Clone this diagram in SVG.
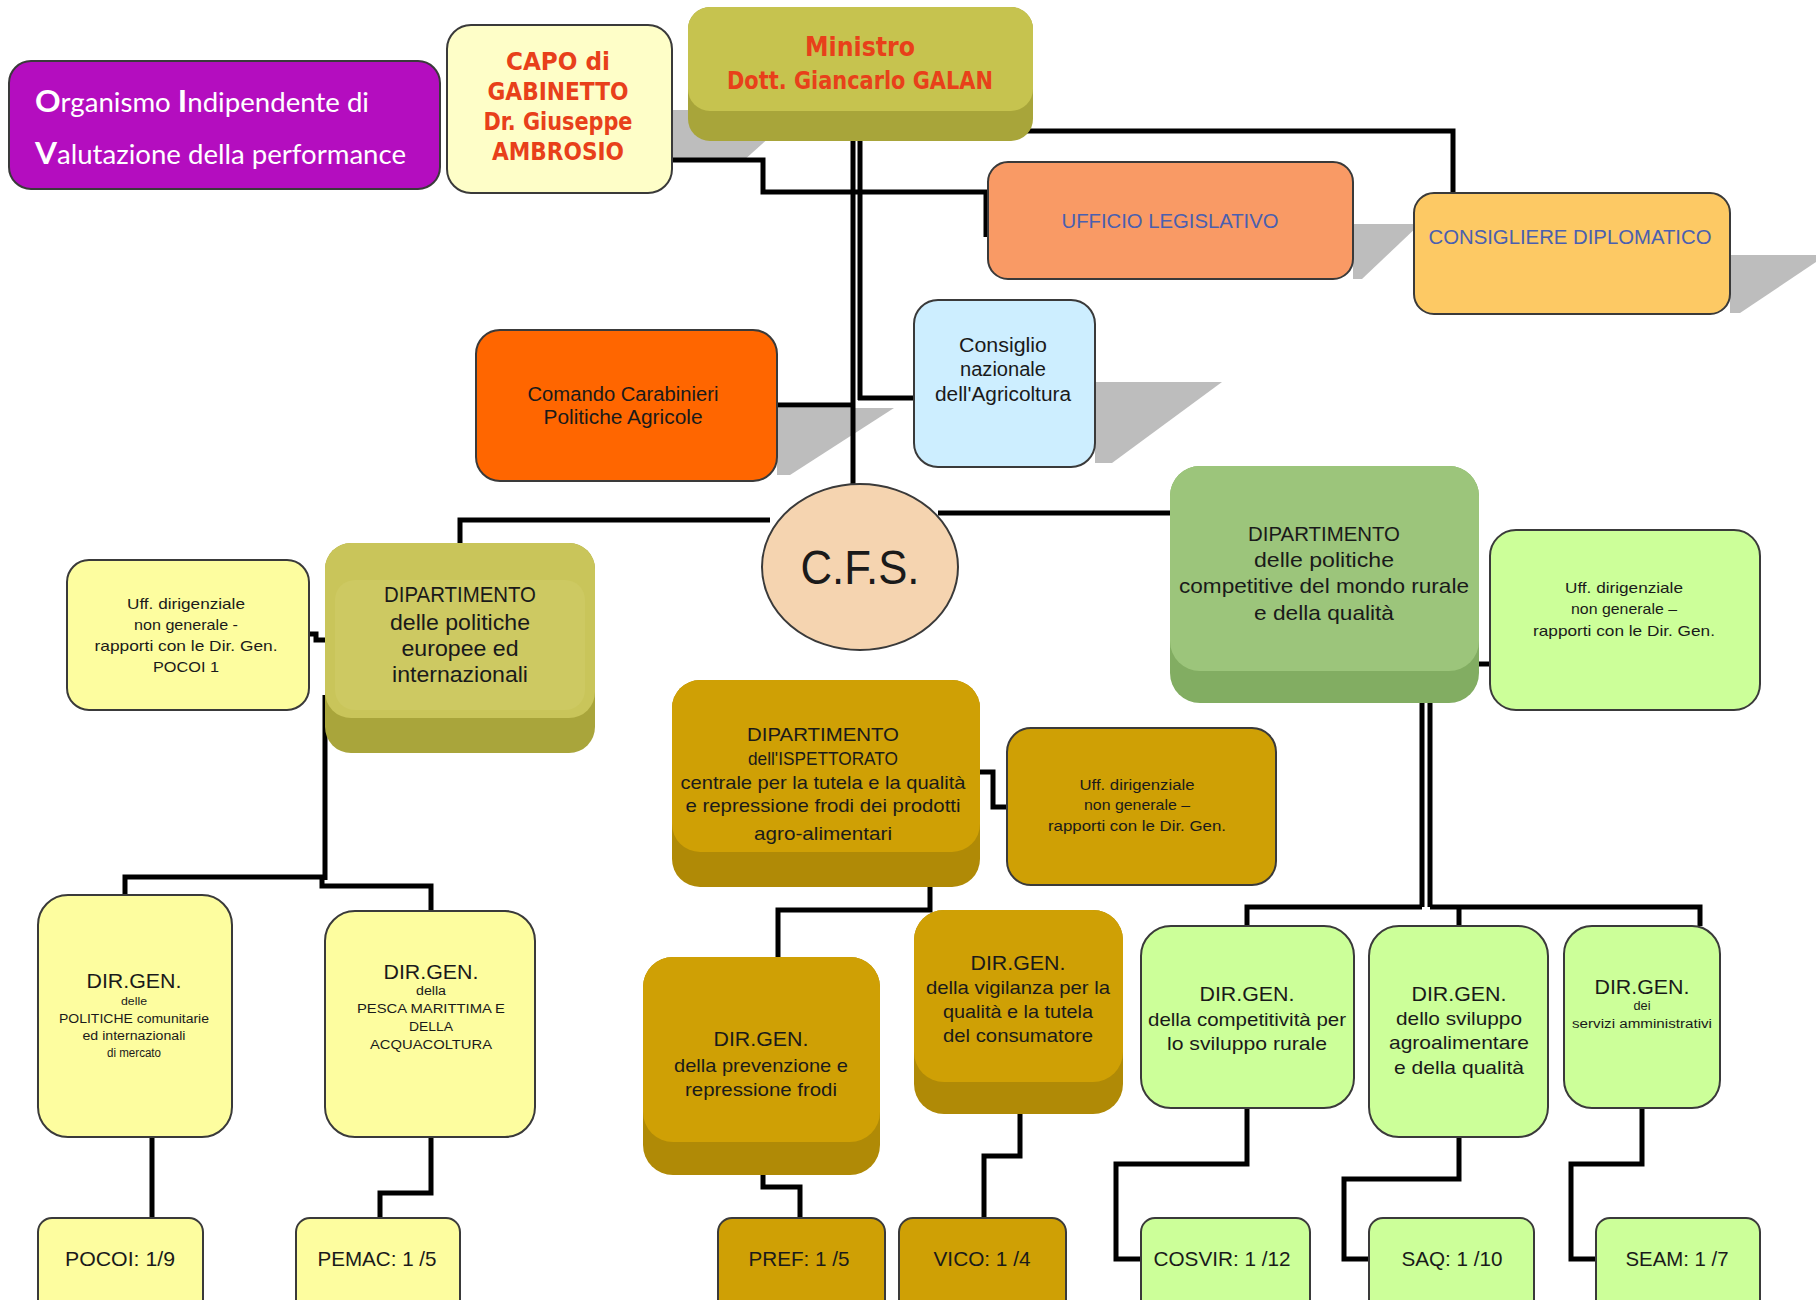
<svg xmlns="http://www.w3.org/2000/svg" width="1816" height="1300" viewBox="0 0 1816 1300">
<defs>
<style>
.box{stroke:#3a3a3a;stroke-width:2}
.t{font-family:"Liberation Sans",Arial,sans-serif;fill:#1a1a1a;text-anchor:middle}
.red{font-family:"Liberation Sans Narrow","DejaVu Sans Condensed","Liberation Sans",sans-serif;font-weight:bold;fill:#e8401a;text-anchor:middle}
.blue{font-family:"Liberation Sans",sans-serif;fill:#4a5fb0;text-anchor:middle}
.oiv{font-family:Lato,"Open Sans",sans-serif;fill:#ffffff}
.ln{fill:none;stroke:#000;stroke-width:5}
.sh{fill:#bdbdbd}
.yel{fill:#fdfd9f}
.gold{fill:#cfa005}
.goldb{fill:#b08a06}
.lg{fill:#ccff99}
</style>
</defs>
<rect width="1816" height="1300" fill="#ffffff"/>

<!-- shadows -->
<g id="shadows">
<polygon class="sh" points="672,110 800,110 742,162 672,162"/>
<polygon class="sh" points="1353,224 1420,224 1362,279 1353,279"/>
<polygon class="sh" points="1730,255 1816,255 1816,262 1740,313 1730,313"/>
<polygon class="sh" points="777,408 894,408 790,475 777,475"/>
<polygon class="sh" points="1095,382 1222,382 1112,463 1095,463"/>
</g>

<!-- connectors -->
<g id="connectors">
<polyline class="ln" points="1019,131 1453,131 1453,193"/>
<polyline class="ln" points="672,160 763,160 763,192 986,192 986,237"/>
<line class="ln" x1="853" y1="141" x2="853" y2="486"/>
<line class="ln" x1="860" y1="141" x2="860" y2="400"/>
<line class="ln" x1="777" y1="405" x2="853" y2="405"/>
<line class="ln" x1="858" y1="398" x2="914" y2="398"/>
<polyline class="ln" points="460,545 460,520 770,520"/>
<line class="ln" x1="938" y1="513" x2="1170" y2="513"/>
<polyline class="ln" points="309,634 316,634 316,640 325,640"/>
<line class="ln" x1="325" y1="695" x2="325" y2="880"/>
<polyline class="ln" points="125,896 125,877 322,877 322,886 431,886 431,911"/>
<line class="ln" x1="152" y1="1137" x2="152" y2="1218"/>
<polyline class="ln" points="431,1137 431,1193 380,1193 380,1218"/>
<polyline class="ln" points="980,772 993,772 993,807 1007,807"/>
<polyline class="ln" points="778,957 778,910 930,910 930,885"/>
<polyline class="ln" points="763,1160 763,1187 800,1187 800,1218"/>
<polyline class="ln" points="1020,1094 1020,1156 984,1156 984,1218"/>
<line class="ln" x1="1479" y1="664" x2="1490" y2="664"/>
<line class="ln" x1="1422" y1="703" x2="1422" y2="907"/>
<line class="ln" x1="1430" y1="703" x2="1430" y2="907"/>
<polyline class="ln" points="1247,926 1247,907 1422,907"/>
<polyline class="ln" points="1430,907 1700,907 1700,926"/>
<line class="ln" x1="1459" y1="907" x2="1459" y2="926"/>
<polyline class="ln" points="1247,1108 1247,1164 1116,1164 1116,1259 1141,1259"/>
<polyline class="ln" points="1459,1137 1459,1179 1344,1179 1344,1259 1369,1259"/>
<polyline class="ln" points="1642,1108 1642,1164 1571,1164 1571,1259 1596,1259"/>
</g>

<g id="oiv">
<rect class="box" x="9" y="61" width="431" height="128" rx="22" fill="#b40dbf"/>
<text class="oiv" x="35" y="112" font-size="27" textLength="334" lengthAdjust="spacingAndGlyphs"><tspan font-weight="bold" font-size="31">O</tspan>rganismo <tspan font-weight="bold" font-size="31">I</tspan>ndipendente di</text>
<text class="oiv" x="35" y="164" font-size="27" textLength="371" lengthAdjust="spacingAndGlyphs"><tspan font-weight="bold" font-size="31">V</tspan>alutazione della performance</text>
</g>

<g id="capo">
<rect class="box" x="447" y="25" width="225" height="168" rx="24" fill="#fefec8"/>
<text class="red" x="558" y="70" font-size="24" textLength="104" lengthAdjust="spacingAndGlyphs">CAPO di</text>
<text class="red" x="558" y="100" font-size="24" textLength="141" lengthAdjust="spacingAndGlyphs">GABINETTO</text>
<text class="red" x="558" y="130" font-size="24" textLength="149" lengthAdjust="spacingAndGlyphs">Dr. Giuseppe</text>
<text class="red" x="558" y="160" font-size="24" textLength="132" lengthAdjust="spacingAndGlyphs">AMBROSIO</text>
</g>

<g id="ministro">
<rect x="688" y="7" width="345" height="134" rx="22" fill="#a8a53a"/>
<rect x="688" y="7" width="345" height="104" rx="22" fill="#c6c34f"/>
<text class="red" x="860" y="56" font-size="26" textLength="110" lengthAdjust="spacingAndGlyphs">Ministro</text>
<text class="red" x="860" y="89" font-size="25" textLength="266" lengthAdjust="spacingAndGlyphs">Dott. Giancarlo GALAN</text>
</g>

<g id="ufficio-legislativo">
<rect class="box" x="988" y="162" width="365" height="117" rx="20" fill="#f99a65"/>
<text class="blue" x="1170" y="228" font-size="20" textLength="217" lengthAdjust="spacingAndGlyphs">UFFICIO LEGISLATIVO</text>
</g>

<g id="consigliere">
<rect class="box" x="1414" y="193" width="316" height="121" rx="20" fill="#fdc964"/>
<text class="blue" x="1570" y="244" font-size="21" textLength="283" lengthAdjust="spacingAndGlyphs">CONSIGLIERE DIPLOMATICO</text>
</g>

<g id="comando">
<rect class="box" x="476" y="330" width="301" height="151" rx="24" fill="#ff6600"/>
<text class="t" x="623" y="401" font-size="20" textLength="191" lengthAdjust="spacingAndGlyphs">Comando Carabinieri</text>
<text class="t" x="623" y="424" font-size="20" textLength="159" lengthAdjust="spacingAndGlyphs">Politiche Agricole</text>
</g>

<g id="consiglio">
<rect class="box" x="914" y="300" width="181" height="167" rx="24" fill="#cdeeff"/>
<text class="t" x="1003" y="352" font-size="20" textLength="88" lengthAdjust="spacingAndGlyphs">Consiglio</text>
<text class="t" x="1003" y="376" font-size="20" textLength="86" lengthAdjust="spacingAndGlyphs">nazionale</text>
<text class="t" x="1003" y="401" font-size="20" textLength="136" lengthAdjust="spacingAndGlyphs">dell'Agricoltura</text>
</g>

<g id="cfs">
<ellipse class="box" cx="860" cy="567" rx="98" ry="83" fill="#f5d4b0"/>
<text class="t" x="860" y="584" font-size="48" textLength="119" lengthAdjust="spacingAndGlyphs">C.F.S.</text>
</g>

<g id="dip-europee">
<rect x="325" y="543" width="270" height="210" rx="26" fill="#a9a53b"/>
<rect x="325" y="543" width="270" height="175" rx="26" fill="#c9c55a"/>
<rect x="335" y="580" width="250" height="130" rx="20" fill="#cdc962"/>
<text class="t" x="460" y="602" font-size="22" textLength="152" lengthAdjust="spacingAndGlyphs">DIPARTIMENTO</text>
<text class="t" x="460" y="630" font-size="22" textLength="140" lengthAdjust="spacingAndGlyphs">delle politiche</text>
<text class="t" x="460" y="656" font-size="22" textLength="117" lengthAdjust="spacingAndGlyphs">europee ed</text>
<text class="t" x="460" y="682" font-size="22" textLength="136" lengthAdjust="spacingAndGlyphs">internazionali</text>
</g>

<g id="uff-pocoi">
<rect class="box yel" x="67" y="560" width="242" height="150" rx="22"/>
<text class="t" x="186" y="609" font-size="15" textLength="118" lengthAdjust="spacingAndGlyphs">Uff. dirigenziale</text>
<text class="t" x="186" y="630" font-size="15" textLength="104" lengthAdjust="spacingAndGlyphs">non generale  -</text>
<text class="t" x="186" y="651" font-size="15" textLength="183" lengthAdjust="spacingAndGlyphs">rapporti con  le  Dir. Gen.</text>
<text class="t" x="186" y="672" font-size="15" textLength="66" lengthAdjust="spacingAndGlyphs">POCOI 1</text>
</g>

<g id="dg-pocoi">
<rect class="box yel" x="38" y="895" width="194" height="242" rx="30"/>
<text class="t" x="134" y="988" font-size="20" textLength="95" lengthAdjust="spacingAndGlyphs">DIR.GEN.</text>
<text class="t" x="134" y="1005" font-size="11" textLength="26" lengthAdjust="spacingAndGlyphs">delle</text>
<text class="t" x="134" y="1023" font-size="12" textLength="150" lengthAdjust="spacingAndGlyphs">POLITICHE comunitarie</text>
<text class="t" x="134" y="1040" font-size="12" textLength="103" lengthAdjust="spacingAndGlyphs">ed internazionali</text>
<text class="t" x="134" y="1057" font-size="12" textLength="54" lengthAdjust="spacingAndGlyphs">di mercato</text>
</g>

<g id="dg-pemac">
<rect class="box yel" x="325" y="911" width="210" height="226" rx="30"/>
<text class="t" x="431" y="979" font-size="20" textLength="95" lengthAdjust="spacingAndGlyphs">DIR.GEN.</text>
<text class="t" x="431" y="995" font-size="12" textLength="30" lengthAdjust="spacingAndGlyphs">della</text>
<text class="t" x="431" y="1013" font-size="13" textLength="148" lengthAdjust="spacingAndGlyphs">PESCA MARITTIMA E</text>
<text class="t" x="431" y="1031" font-size="13" textLength="44" lengthAdjust="spacingAndGlyphs">DELLA</text>
<text class="t" x="431" y="1049" font-size="13" textLength="122" lengthAdjust="spacingAndGlyphs">ACQUACOLTURA</text>
</g>

<g id="pocoi">
<rect class="box yel" x="38" y="1218" width="165" height="95" rx="14"/>
<text class="t" x="120" y="1266" font-size="21" textLength="110" lengthAdjust="spacingAndGlyphs">POCOI: 1/9</text>
</g>

<g id="pemac">
<rect class="box yel" x="296" y="1218" width="164" height="95" rx="14"/>
<text class="t" x="377" y="1266" font-size="21" textLength="119" lengthAdjust="spacingAndGlyphs">PEMAC: 1 /5</text>
</g>

<g id="dip-ispettorato">
<rect x="672" y="680" width="308" height="207" rx="28" class="goldb"/>
<rect x="672" y="680" width="308" height="172" rx="28" class="gold"/>
<text class="t" x="823" y="741" font-size="19" textLength="152" lengthAdjust="spacingAndGlyphs">DIPARTIMENTO</text>
<text class="t" x="823" y="765" font-size="19" textLength="150" lengthAdjust="spacingAndGlyphs">dell'ISPETTORATO</text>
<text class="t" x="823" y="789" font-size="19" textLength="285" lengthAdjust="spacingAndGlyphs">centrale per la tutela e la qualità</text>
<text class="t" x="823" y="812" font-size="19" textLength="275" lengthAdjust="spacingAndGlyphs">e repressione frodi dei prodotti</text>
<text class="t" x="823" y="840" font-size="19" textLength="138" lengthAdjust="spacingAndGlyphs">agro-alimentari</text>
</g>

<g id="uff-ispettorato">
<rect class="box gold" x="1007" y="728" width="269" height="157" rx="24"/>
<text class="t" x="1137" y="790" font-size="15" textLength="115" lengthAdjust="spacingAndGlyphs">Uff. dirigenziale</text>
<text class="t" x="1137" y="810" font-size="15" textLength="106" lengthAdjust="spacingAndGlyphs">non generale  –</text>
<text class="t" x="1137" y="831" font-size="15" textLength="178" lengthAdjust="spacingAndGlyphs">rapporti con  le  Dir. Gen.</text>
</g>

<g id="dg-prevenzione">
<rect x="643" y="957" width="237" height="218" rx="30" class="goldb"/>
<rect x="643" y="957" width="237" height="185" rx="30" class="gold"/>
<text class="t" x="761" y="1046" font-size="20" textLength="95" lengthAdjust="spacingAndGlyphs">DIR.GEN.</text>
<text class="t" x="761" y="1072" font-size="19" textLength="174" lengthAdjust="spacingAndGlyphs">della prevenzione e</text>
<text class="t" x="761" y="1096" font-size="19" textLength="152" lengthAdjust="spacingAndGlyphs">repressione frodi</text>
</g>

<g id="dg-vigilanza">
<rect x="914" y="910" width="209" height="204" rx="30" class="goldb"/>
<rect x="914" y="910" width="209" height="172" rx="30" class="gold"/>
<text class="t" x="1018" y="970" font-size="20" textLength="95" lengthAdjust="spacingAndGlyphs">DIR.GEN.</text>
<text class="t" x="1018" y="994" font-size="19" textLength="184" lengthAdjust="spacingAndGlyphs">della vigilanza per la</text>
<text class="t" x="1018" y="1018" font-size="19" textLength="150" lengthAdjust="spacingAndGlyphs">qualità e la tutela</text>
<text class="t" x="1018" y="1042" font-size="19" textLength="150" lengthAdjust="spacingAndGlyphs">del consumatore</text>
</g>

<g id="pref">
<rect class="box gold" x="718" y="1218" width="167" height="95" rx="14"/>
<text class="t" x="799" y="1266" font-size="21" textLength="101" lengthAdjust="spacingAndGlyphs">PREF: 1 /5</text>
</g>

<g id="vico">
<rect class="box gold" x="899" y="1218" width="167" height="95" rx="14"/>
<text class="t" x="982" y="1266" font-size="21" textLength="97" lengthAdjust="spacingAndGlyphs">VICO: 1 /4</text>
</g>

<g id="dip-competitive">
<rect x="1170" y="466" width="309" height="237" rx="30" fill="#82ad62"/>
<rect x="1170" y="466" width="309" height="205" rx="30" fill="#9cc57b"/>
<text class="t" x="1324" y="541" font-size="21" textLength="152" lengthAdjust="spacingAndGlyphs">DIPARTIMENTO</text>
<text class="t" x="1324" y="567" font-size="21" textLength="140" lengthAdjust="spacingAndGlyphs">delle politiche</text>
<text class="t" x="1324" y="593" font-size="21" textLength="290" lengthAdjust="spacingAndGlyphs">competitive del mondo rurale</text>
<text class="t" x="1324" y="620" font-size="21" textLength="140" lengthAdjust="spacingAndGlyphs">e della qualità</text>
</g>

<g id="uff-competitive">
<rect class="box lg" x="1490" y="530" width="270" height="180" rx="26"/>
<text class="t" x="1624" y="593" font-size="15" textLength="118" lengthAdjust="spacingAndGlyphs">Uff. dirigenziale</text>
<text class="t" x="1624" y="614" font-size="15" textLength="106" lengthAdjust="spacingAndGlyphs">non generale  –</text>
<text class="t" x="1624" y="636" font-size="15" textLength="182" lengthAdjust="spacingAndGlyphs">rapporti con  le  Dir. Gen.</text>
</g>

<g id="dg-competitivita">
<rect class="box lg" x="1141" y="926" width="213" height="182" rx="30"/>
<text class="t" x="1247" y="1001" font-size="20" textLength="95" lengthAdjust="spacingAndGlyphs">DIR.GEN.</text>
<text class="t" x="1247" y="1026" font-size="19" textLength="198" lengthAdjust="spacingAndGlyphs">della competitività per</text>
<text class="t" x="1247" y="1050" font-size="19" textLength="160" lengthAdjust="spacingAndGlyphs">lo sviluppo rurale</text>
</g>

<g id="dg-sviluppo">
<rect class="box lg" x="1369" y="926" width="179" height="211" rx="30"/>
<text class="t" x="1459" y="1001" font-size="20" textLength="95" lengthAdjust="spacingAndGlyphs">DIR.GEN.</text>
<text class="t" x="1459" y="1025" font-size="19" textLength="126" lengthAdjust="spacingAndGlyphs">dello sviluppo</text>
<text class="t" x="1459" y="1049" font-size="19" textLength="140" lengthAdjust="spacingAndGlyphs">agroalimentare</text>
<text class="t" x="1459" y="1074" font-size="19" textLength="130" lengthAdjust="spacingAndGlyphs">e della qualità</text>
</g>

<g id="dg-servizi">
<rect class="box lg" x="1564" y="926" width="156" height="182" rx="28"/>
<text class="t" x="1642" y="994" font-size="20" textLength="95" lengthAdjust="spacingAndGlyphs">DIR.GEN.</text>
<text class="t" x="1642" y="1010" font-size="12" textLength="17" lengthAdjust="spacingAndGlyphs">dei</text>
<text class="t" x="1642" y="1028" font-size="12" textLength="140" lengthAdjust="spacingAndGlyphs">servizi amministrativi</text>
</g>

<g id="cosvir">
<rect class="box lg" x="1141" y="1218" width="169" height="95" rx="14"/>
<text class="t" x="1222" y="1266" font-size="21" textLength="137" lengthAdjust="spacingAndGlyphs">COSVIR: 1 /12</text>
</g>

<g id="saq">
<rect class="box lg" x="1369" y="1218" width="165" height="95" rx="14"/>
<text class="t" x="1452" y="1266" font-size="21" textLength="101" lengthAdjust="spacingAndGlyphs">SAQ: 1 /10</text>
</g>

<g id="seam">
<rect class="box lg" x="1596" y="1218" width="164" height="95" rx="14"/>
<text class="t" x="1677" y="1266" font-size="21" textLength="103" lengthAdjust="spacingAndGlyphs">SEAM: 1 /7</text>
</g>
</svg>
